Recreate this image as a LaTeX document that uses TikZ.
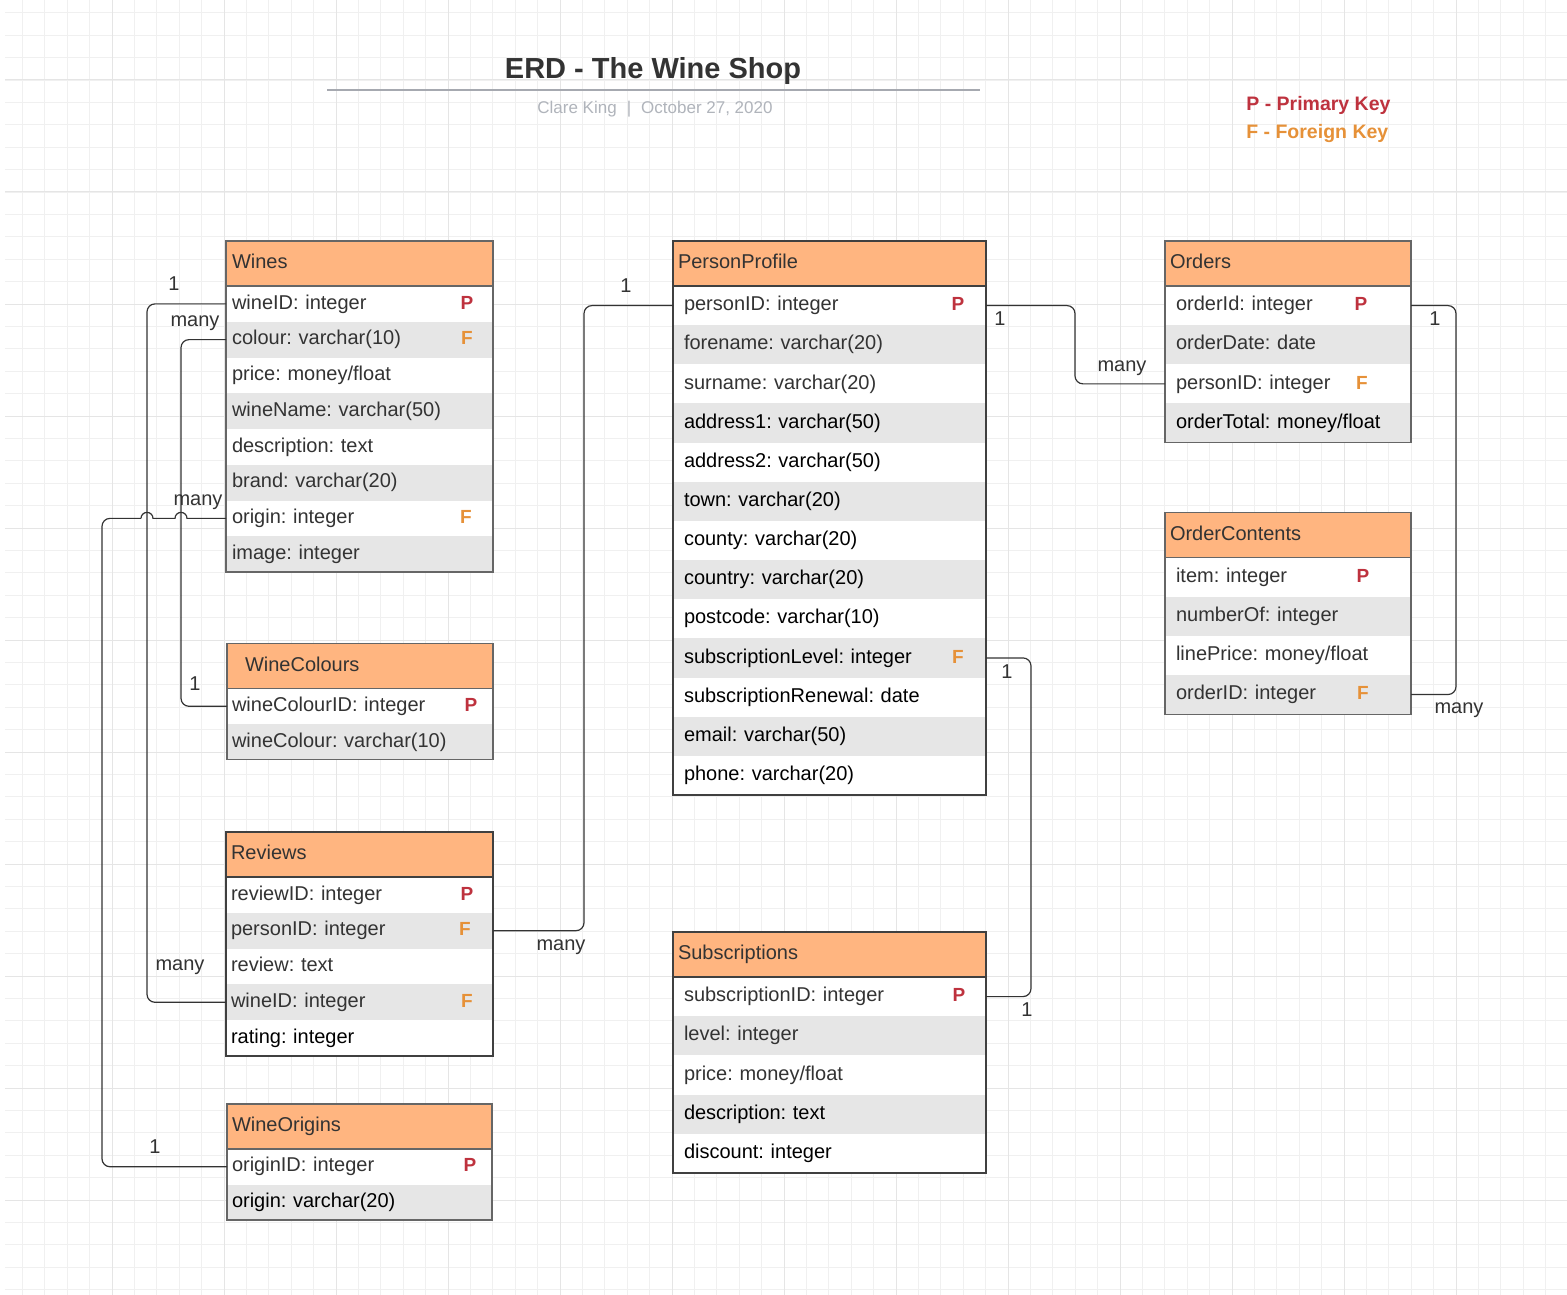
\documentclass[tikz,border=0pt]{standalone}
\usepackage{fontspec}
\setmainfont{Liberation Sans}
\usepackage{tikz}
\usetikzlibrary{positioning}
\definecolor{headfill}{RGB}{255,181,128}
\definecolor{stripe}{RGB}{230,230,230}
\definecolor{pkred}{RGB}{190,50,62}
\definecolor{fkorange}{RGB}{230,145,56}
\definecolor{inkgray}{RGB}{51,51,51}
\definecolor{subgray}{RGB}{176,180,187}
\definecolor{rulegray}{RGB}{166,169,176}
\newcommand{\blk}[1]{\textcolor{black}{#1}}
\frenchspacing

\begin{document}
\begin{tikzpicture}[x=1pt,y=1pt,
  every node/.style={outer sep=0pt},
  txt/.style={font=\fontsize{20}{24}\selectfont, text=inkgray, text height=14.5pt, text depth=4.2pt},
  tabhead/.style 2 args={txt, fill=headfill, anchor=north west, align=left, text width=#1, inner xsep=#2, inner ysep=0pt, minimum height=45pt},
  tabrow/.style 2 args={txt, anchor=north west, align=left, text width=#1, inner xsep=#2, inner ysep=0pt},
  frame/.style={draw=black!60, line width=1.2pt},
  darkframe/.style={draw=black!75, line width=1.2pt},
  pk/.style={font=\bfseries\fontsize{19}{23}\selectfont, text=pkred, text height=14.5pt, text depth=4.2pt, inner sep=0pt},
  fk/.style={pk, text=fkorange},
  card/.style={txt, inner sep=0pt},
  link/.style={draw=inkgray, line width=1.2pt, rounded corners=8pt},
  hop/.style={draw=inkgray, line width=1.2pt},
  minorgrid/.style={draw=black!6, line width=0.9pt},
  majorgrid/.style={draw=black!10, line width=1pt}]

% background and grid
\useasboundingbox (0,0) rectangle (1567,-1295);
\fill[white] (0,0) rectangle (1567,-1295);
\foreach \gx in {22.4,44.8,...,1567} \draw[minorgrid] (\gx,0) -- (\gx,-1295);
\foreach \gy in {12.8,35.2,...,1295} \draw[minorgrid] (5,-\gy) -- (1567,-\gy);
\foreach \gx in {112,224,...,1567} \draw[majorgrid] (\gx,0) -- (\gx,-1295);
\foreach \gy in {80,192,...,1295} \draw[majorgrid] (5,-\gy) -- (1567,-\gy);

% title block
\node[font=\bfseries\fontsize{29}{34}\selectfont, text=inkgray] (title) at (653,-71) {ERD - The Wine Shop};
\draw[draw=rulegray, line width=2.5pt] (327,-90) -- (980,-90);
\node[font=\fontsize{17}{20}\selectfont, text=subgray] (byline) at (655,-109) {Clare King\hspace{10pt}|\hspace{10pt}October 27, 2020};
\node[anchor=west, font=\bfseries\fontsize{19.5}{23}\selectfont, text=pkred] (pkey) at (1243,-105) {P - Primary Key};
\node[anchor=west, font=\bfseries\fontsize{19.5}{23}\selectfont, text=fkorange] (fkey) at (1243,-134) {F - Foreign Key};

% Wines
\node[tabhead={255pt}{6pt}] (wines-0) at (226,-241) {Wines};
\foreach \txt [count=\i, remember=\i as \j (initially 0)] in {wineID: integer, colour: varchar(10), price: money/float, wineName: varchar(50), description: text, brand: varchar(20), origin: integer, image: integer}{
  \pgfmathtruncatemacro\shade{mod(\i+1,2)*100}
  \node[tabrow={255pt}{6pt}, minimum height=35.75pt, fill=stripe!\shade!white] (wines-\i) at (wines-\j.south west) {\txt};
}
\draw[frame] (wines-0.north west) rectangle (wines-8.south east) (wines-0.south west) -- (wines-0.south east);
\node[pk] (wines-p1) at ([xshift=-26pt]wines-1.east) {P};
\node[fk] (wines-f2) at ([xshift=-26pt]wines-2.east) {F};
\node[fk] (wines-f7) at ([xshift=-27pt]wines-7.east) {F};

% WineColours
\node[tabhead={230pt}{18pt}] (colours-0) at (227,-643.5) {WineColours};
\foreach \txt [count=\i, remember=\i as \j (initially 0)] in {wineColourID: integer, wineColour: varchar(10)}{
  \pgfmathtruncatemacro\shade{mod(\i+1,2)*100}
  \node[tabrow={256pt}{5pt}, minimum height=35.6pt, fill=stripe!\shade!white] (colours-\i) at (colours-\j.south west) {\txt};
}
\draw[frame] (colours-0.north west) rectangle (colours-2.south east) (colours-0.south west) -- (colours-0.south east);
\node[pk] (colours-p1) at ([xshift=-22pt]colours-1.east) {P};

% Reviews
\node[tabhead={257pt}{5pt}] (reviews-0) at (226,-832) {Reviews};
\foreach \txt [count=\i, remember=\i as \j (initially 0)] in {reviewID: integer, personID: integer, review: text, wineID: integer, \blk{rating: integer}}{
  \pgfmathtruncatemacro\shade{mod(\i+1,2)*100}
  \node[tabrow={257pt}{5pt}, minimum height=35.8pt, fill=stripe!\shade!white] (reviews-\i) at (reviews-\j.south west) {\txt};
}
\draw[darkframe] (reviews-0.north west) rectangle (reviews-5.south east) (reviews-0.south west) -- (reviews-0.south east);
\node[pk] (reviews-p1) at ([xshift=-26pt]reviews-1.east) {P};
\node[fk] (reviews-f2) at ([xshift=-28pt]reviews-2.east) {F};
\node[fk] (reviews-f4) at ([xshift=-26pt]reviews-4.east) {F};

% WineOrigins
\node[tabhead={255pt}{5pt}] (origins-0) at (227,-1104) {WineOrigins};
\foreach \txt [count=\i, remember=\i as \j (initially 0)] in {originID: integer, \blk{origin: varchar(20)}}{
  \pgfmathtruncatemacro\shade{mod(\i+1,2)*100}
  \node[tabrow={255pt}{5pt}, minimum height=35.5pt, fill=stripe!\shade!white] (origins-\i) at (origins-\j.south west) {\txt};
}
\draw[frame] (origins-0.north west) rectangle (origins-2.south east) (origins-0.south west) -- (origins-0.south east);
\node[pk] (origins-p1) at ([xshift=-22pt]origins-1.east) {P};

% PersonProfile
\node[tabhead={303pt}{5pt}] (person-0) at (673,-241) {PersonProfile};
\foreach \txt [count=\i, remember=\i as \j (initially 0)] in {personID: integer, forename: varchar(20), surname: varchar(20), \blk{address1: varchar(50)}, \blk{address2: varchar(50)}, \blk{town: varchar(20)}, \blk{county: varchar(20)}, \blk{country: varchar(20)}, \blk{postcode: varchar(10)}, \blk{subscriptionLevel: integer}, \blk{subscriptionRenewal: date}, \blk{email: varchar(50)}, \blk{phone: varchar(20)}}{
  \pgfmathtruncatemacro\shade{mod(\i+1,2)*100}
  \node[tabrow={291pt}{11pt}, minimum height=39.15pt, fill=stripe!\shade!white] (person-\i) at (person-\j.south west) {\txt};
}
\draw[darkframe] (person-0.north west) rectangle (person-13.south east) (person-0.south west) -- (person-0.south east);
\node[pk] (person-p1) at ([xshift=-28pt]person-1.east) {P};
\node[fk] (person-f10) at ([xshift=-28pt]person-10.east) {F};

% Subscriptions
\node[tabhead={303pt}{5pt}] (subs-0) at (673,-932) {Subscriptions};
\foreach \txt [count=\i, remember=\i as \j (initially 0)] in {subscriptionID: integer, level: integer, price: money/float, \blk{description: text}, \blk{discount: integer}}{
  \pgfmathtruncatemacro\shade{mod(\i+1,2)*100}
  \node[tabrow={291pt}{11pt}, minimum height=39.2pt, fill=stripe!\shade!white] (subs-\i) at (subs-\j.south west) {\txt};
}
\draw[darkframe] (subs-0.north west) rectangle (subs-5.south east) (subs-0.south west) -- (subs-0.south east);
\node[pk] (subs-p1) at ([xshift=-27pt]subs-1.east) {P};

% Orders
\node[tabhead={236pt}{5pt}] (orders-0) at (1165,-241) {Orders};
\foreach \txt [count=\i, remember=\i as \j (initially 0)] in {orderId: integer, orderDate: date, personID: integer, \blk{orderTotal: money/float}}{
  \pgfmathtruncatemacro\shade{mod(\i+1,2)*100}
  \node[tabrow={224pt}{11pt}, minimum height=39.15pt, fill=stripe!\shade!white] (orders-\i) at (orders-\j.south west) {\txt};
}
\draw[frame] (orders-0.north west) rectangle (orders-4.south east) (orders-0.south west) -- (orders-0.south east);
\node[pk] (orders-p1) at ([xshift=-50pt]orders-1.east) {P};
\node[fk] (orders-f3) at ([xshift=-49pt]orders-3.east) {F};

% OrderContents
\node[tabhead={236pt}{5pt}] (contents-0) at (1165,-512.5) {OrderContents};
\foreach \txt [count=\i, remember=\i as \j (initially 0)] in {item: integer, numberOf: integer, linePrice: money/float, orderID: integer}{
  \pgfmathtruncatemacro\shade{mod(\i+1,2)*100}
  \node[tabrow={224pt}{11pt}, minimum height=39.15pt, fill=stripe!\shade!white] (contents-\i) at (contents-\j.south west) {\txt};
}
\draw[frame] (contents-0.north west) rectangle (contents-4.south east) (contents-0.south west) -- (contents-0.south east);
\node[pk] (contents-p1) at ([xshift=-48pt]contents-1.east) {P};
\node[fk] (contents-f4) at ([xshift=-48pt]contents-4.east) {F};

% relationships
\draw[link] (wines-1.west) -- ++(-79,0) |- (reviews-4.west);
\draw[link] (wines-2.west) -- ++(-45,0) |- (colours-1.west);
\draw[hop] (wines-7.west) -- ++(-39,0) arc (0:180:6) -- ++(-22,0) arc (0:180:6) coordinate (orig-hop);
\draw[link] (orig-hop) -- ++(-39,0) |- (origins-1.west);
\draw[link] (reviews-2.east) -- ++(91,0) |- (person-1.west);
\draw[link] (person-1.east) -- ++(89,0) |- (orders-3.west);
\draw[link] (orders-1.east) -- ++(45,0) |- (contents-4.east);
\draw[link] (person-10.east) -- ++(45,0) |- (subs-1.east);

% cardinalities
\node[card] (c-wine1) at (174,-285) {1};
\node[card] (c-colmany) at (195,-321) {many};
\node[card] (c-orimany) at (198,-500) {many};
\node[card] (c-col1) at (195,-685) {1};
\node[card] (c-revmany) at (180,-965) {many};
\node[card] (c-ori1) at (155,-1148) {1};
\node[card] (c-per1) at (626,-287) {1};
\node[card] (c-revpmany) at (561,-945) {many};
\node[card] (c-per1b) at (1000,-320) {1};
\node[card] (c-ordmany) at (1122,-366) {many};
\node[card] (c-ord1) at (1435,-320) {1};
\node[card] (c-conmany) at (1459,-708) {many};
\node[card] (c-sub1) at (1007,-673) {1};
\node[card] (c-sub1b) at (1027,-1011) {1};
\end{tikzpicture}
\end{document}
